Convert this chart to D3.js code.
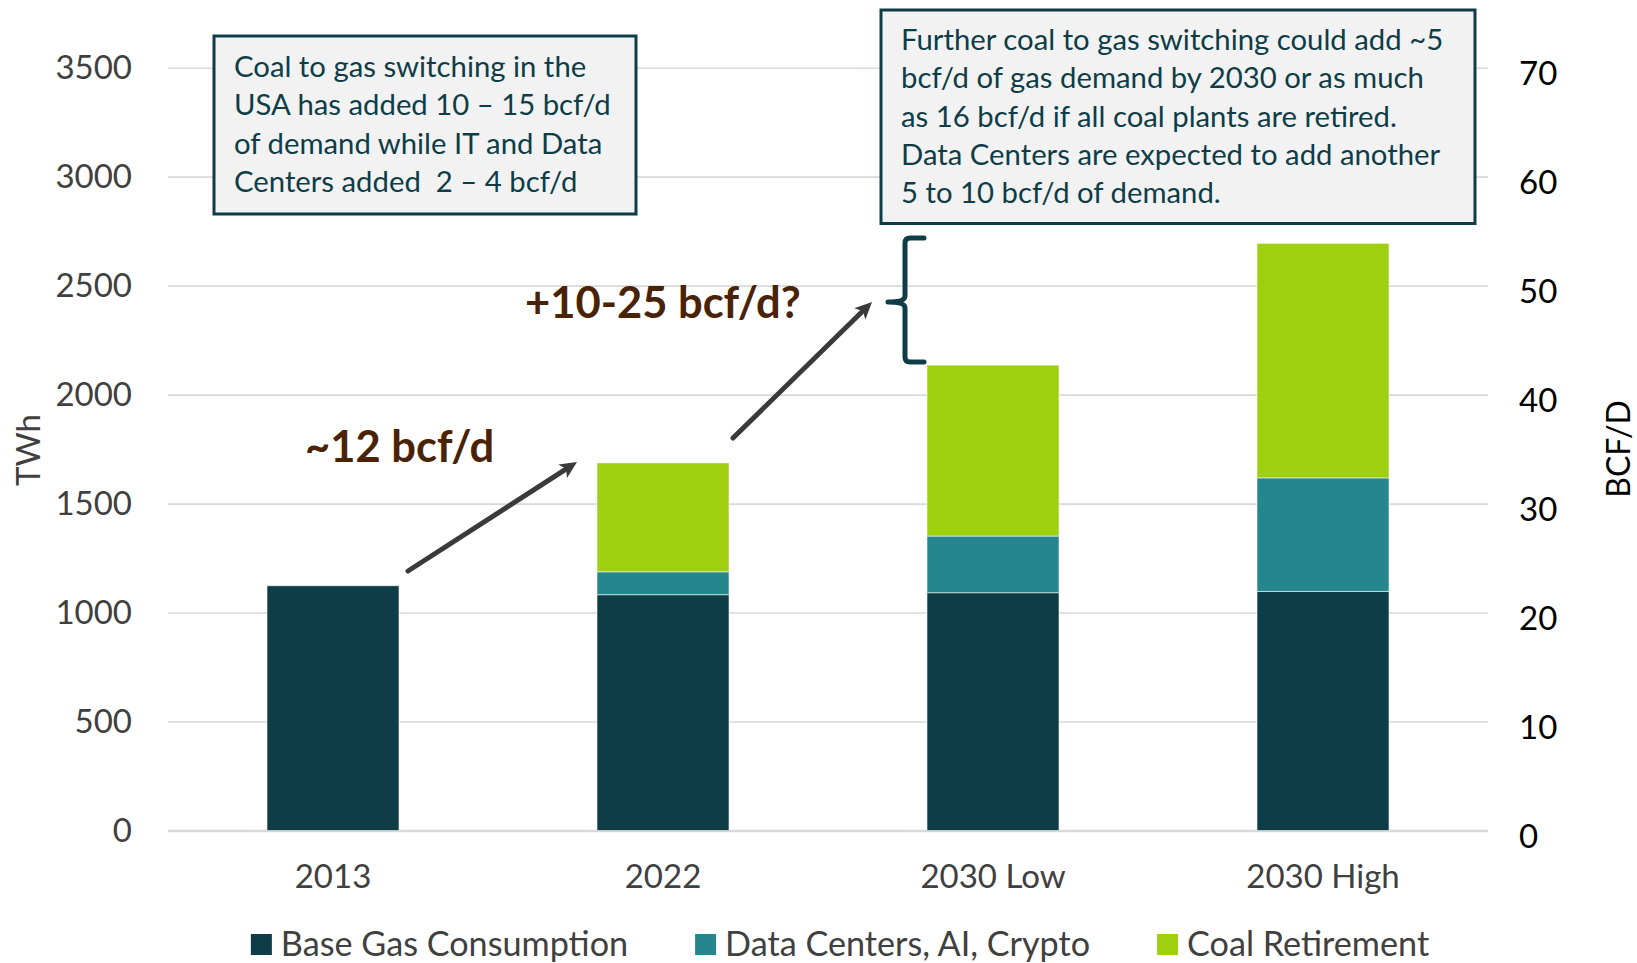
<!DOCTYPE html>
<html>
<head>
<meta charset="utf-8">
<script src="https://cdn.jsdelivr.net/npm/d3@7/dist/d3.min.js"></script>
<style>
    body { margin: 0; background: #fff; }
    svg text { font-family: Lato, "Open Sans", sans-serif; }
</style>
</head>
<body>
<div id="chart"></div>
<script>
// データ (TWh)
var categories = ["2013", "2022", "2030 Low", "2030 High"];
var seriesNames = ["Base Gas Consumption", "Data Centers, AI, Crypto", "Coal Retirement"];
var baseGas = [1123, 1082, 1091, 1097];
var dataCenters = [0, 105, 260, 521];
var coalRetirement = [0, 500, 784, 1076];
var twhTicks = [0, 500, 1000, 1500, 2000, 2500, 3000, 3500];
var bcfTicks = [0, 10, 20, 30, 40, 50, 60, 70];
var seriesColors = ["#0e3d47", "#25868e", "#9ed00f"];

var noteLeft = [
    "Coal to gas switching in the",
    "USA has added 10 \u2013 15 bcf/d",
    "of demand while IT and Data",
    "Centers added  2 \u2013 4 bcf/d"
];
var noteRight = [
    "Further coal to gas switching could add ~5",
    "bcf/d of gas demand by 2030 or as much",
    "as 16 bcf/d if all coal plants are retired.",
    "Data Centers are expected to add another",
    "5 to 10 bcf/d of demand."
];

var width = 1637;
var height = 963;
var plotLeft = 168, plotRight = 1488, plotTop = 67.7, plotBottom = 830.5;
var size_font = 33;

var rows = categories.map(function (c, i) {
    return { cat: c, base: baseGas[i], dc: dataCenters[i], coal: coalRetirement[i] };
});
var stack = d3.stack().keys(["base", "dc", "coal"]);
var layers = stack(rows);

var svg = d3.select("#chart")
    .append("svg")
    .attr("width", width)
    .attr("height", height);

// スケール
var xScale = d3.scaleBand()
    .domain(categories)
    .range([plotLeft, plotRight])
    .paddingInner(0.6)
    .paddingOuter(0.3);

var yScale = d3.scaleLinear()
    .domain([0, 3500])
    .range([plotBottom, plotTop]);

var yScaleR = d3.scaleLinear()
    .domain([0, 70])
    .range([plotBottom, plotTop]);

// grid
svg.append("g")
    .attr("class", "grid")
    .attr("transform", "translate(" + plotLeft + ",0)")
    .call(d3.axisLeft(yScale).tickValues(twhTicks).tickSize(-(plotRight - plotLeft)).tickFormat(""))
    .call(function (g) { g.select(".domain").remove(); })
    .selectAll("line")
    .attr("stroke", "#d9d9d9")
    .attr("stroke-width", function (d) { return d == 0 ? 2.5 : 1.6; });

// left axis
var yAxis = svg.append("g")
    .attr("transform", "translate(" + plotLeft + ",0)")
    .call(d3.axisLeft(yScale).tickValues(twhTicks).tickFormat(d3.format("d")).tickSize(0).tickPadding(36));
yAxis.select(".domain").remove();
yAxis.selectAll("text")
    .style("font-size", size_font + "px")
    .style("font-family", "Lato")
    .attr("fill", "#404040");

// right axis
var yAxisR = svg.append("g")
    .attr("transform", "translate(" + plotRight + ",0)")
    .call(d3.axisRight(yScaleR).tickValues(bcfTicks).tickFormat(d3.format("d")).tickSize(0).tickPadding(31));
yAxisR.select(".domain").remove();
yAxisR.selectAll("text")
    .attr("dy", "0.5em")
    .style("font-size", size_font + "px")
    .style("font-family", "Lato")
    .attr("fill", "#000");

// bottom axis
var xAxis = svg.append("g")
    .attr("transform", "translate(0," + plotBottom + ")")
    .call(d3.axisBottom(xScale).tickSize(0));
xAxis.select(".domain").remove();
xAxis.selectAll("text")
    .attr("y", 46)
    .attr("dy", "0.35em")
    .style("font-size", size_font + "px")
    .style("font-family", "Lato")
    .attr("fill", "#404040");

// axis titles
svg.append("text")
    .text("TWh")
    .attr("transform", "translate(28,450) rotate(-90)")
    .attr("text-anchor", "middle")
    .attr("dy", "0.35em")
    .style("font-size", size_font + "px")
    .attr("fill", "#404040");

svg.append("text")
    .text("BCF/D")
    .attr("transform", "translate(1619,449) rotate(-90)")
    .attr("text-anchor", "middle")
    .attr("dy", "0.35em")
    .style("font-size", "32px")
    .attr("fill", "#000");

// 積み上げ棒
svg.append("g")
    .selectAll("g")
    .data(layers)
    .enter()
    .append("g")
    .attr("fill", function (d, i) { return seriesColors[i]; })
    .selectAll("rect")
    .data(function (d) { return d.filter(function (p) { return p[1] - p[0] > 0; }); })
    .enter()
    .append("rect")
    .attr("x", function (d) { return xScale(d.data.cat); })
    .attr("y", function (d) { return yScale(d[1]); })
    .attr("width", xScale.bandwidth())
    .attr("height", function (d) { return yScale(d[0]) - yScale(d[1]); })
    .attr("stroke", "rgba(255,255,255,0.55)")
    .attr("stroke-width", 1);

// note boxes
function noteBox(x, y, w, h, lines, tx, ty) {
    svg.append("rect")
        .attr("x", x).attr("y", y)
        .attr("width", w).attr("height", h)
        .attr("fill", "#f2f2f2")
        .attr("stroke", "#0e3d47")
        .attr("stroke-width", 3);
    svg.append("g")
        .selectAll("text")
        .data(lines)
        .enter()
        .append("text")
        .text(function (d) { return d; })
        .attr("x", tx)
        .attr("y", function (d, i) { return ty + i * 38.3; })
        .style("font-size", "29.3px")
        .attr("fill", "#0e3d47")
        .style("white-space", "pre");
}
noteBox(214, 36, 422, 178, noteLeft, 234, 77);
noteBox(881, 10, 594, 213.5, noteRight, 901, 50);

// arrows
function arrow(x1, y1, x2, y2) {
    var a = Math.atan2(y2 - y1, x2 - x1);
    var len = 17, half = 8;
    var bx = x2 - len * Math.cos(a), by = y2 - len * Math.sin(a);
    svg.append("line")
        .attr("x1", x1).attr("y1", y1)
        .attr("x2", bx + 2 * Math.cos(a)).attr("y2", by + 2 * Math.sin(a))
        .attr("stroke", "#3a3a3a")
        .attr("stroke-width", 5)
        .attr("stroke-linecap", "round");
    var p = [
        [x2, y2],
        [bx + half * Math.sin(a), by - half * Math.cos(a)],
        [bx + 4 * Math.cos(a), by + 4 * Math.sin(a)],
        [bx - half * Math.sin(a), by + half * Math.cos(a)]
    ];
    svg.append("path")
        .attr("d", "M" + p.join("L") + "Z")
        .attr("fill", "#3a3a3a");
}
arrow(408, 571, 577, 462);
arrow(733, 438, 872, 302);

// bracket
svg.append("path")
    .attr("d", "M924,238 L910,238 Q905,238 905,243 L905,296 Q905,302 888,302 Q905,302 905,308 L905,357 Q905,362 910,362 L924,362")
    .attr("fill", "none")
    .attr("stroke", "#0e3d47")
    .attr("stroke-width", 5)
    .attr("stroke-linecap", "round")
    .attr("stroke-linejoin", "round");

// annotations
svg.append("text")
    .text("~12 bcf/d")
    .attr("x", 305).attr("y", 462)
    .style("font-size", "43.5px")
    .style("font-weight", "bold")
    .attr("fill", "#4a2306");

svg.append("text")
    .text("+10-25 bcf/d?")
    .attr("x", 525).attr("y", 318)
    .style("font-size", "43.5px")
    .style("font-weight", "bold")
    .attr("fill", "#4a2306");

// 凡例
var legend = svg.append("g");
var lx = 0;
seriesNames.forEach(function (name, i) {
    var item = legend.append("g").attr("transform", "translate(" + lx + ",0)");
    item.append("rect")
        .attr("x", 0).attr("y", 934)
        .attr("width", 21).attr("height", 21)
        .attr("fill", seriesColors[i]);
    var t = item.append("text")
        .text(name)
        .attr("x", 30).attr("y", 956)
        .style("font-size", "34.2px")
        .attr("fill", "#404040");
    lx += 30 + t.node().getComputedTextLength() + 67;
});
var legendWidth = lx - 67;
legend.attr("transform", "translate(" + (840 - legendWidth / 2) + ",0)");
</script>
</body>
</html>
